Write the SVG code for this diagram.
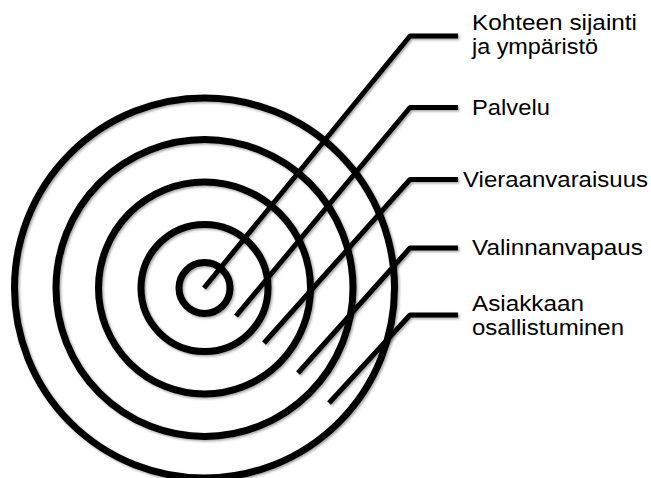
<svg xmlns="http://www.w3.org/2000/svg" width="651" height="478" viewBox="0 0 651 478">
  <defs>
    <filter id="shadow" x="-10%" y="-10%" width="120%" height="120%">
      <feDropShadow dx="1.5" dy="1.5" stdDeviation="1.2" flood-color="#000" flood-opacity="0.35"/>
    </filter>
    <style>
      .ring { fill: none; stroke: #000; stroke-width: 7; }
      .lead { fill: none; stroke: #000; stroke-width: 5; stroke-linejoin: bevel; }
      .lbl { font-family: "Liberation Sans", Arial, sans-serif; font-size: 22.5px; fill: #000; }
    </style>
  </defs>
  <rect width="651" height="478" fill="#fff"/>

  <g id="target" filter="url(#shadow)">
    <circle class="ring" cx="204.5" cy="288" r="190"/>
    <circle class="ring" cx="204.5" cy="288" r="148.5"/>
    <circle class="ring" cx="204.5" cy="288" r="106"/>
    <circle class="ring" cx="204.5" cy="288" r="63.5"/>
    <circle class="ring" cx="204.5" cy="288" r="25.5"/>
  </g>

  <g id="connectors" filter="url(#shadow)">
    <polyline class="lead" points="204,288 410,36 458,36"/>
    <polyline class="lead" points="236,316 410,107.5 458,107.5"/>
    <polyline class="lead" points="264,343 410,179.5 458,179.5"/>
    <polyline class="lead" points="298,373 410,248 458,248"/>
    <polyline class="lead" points="329,403 410,315 458,315"/>
  </g>

  <g id="node-kohteen">
    <text class="lbl" x="472" y="30" textLength="165" lengthAdjust="spacingAndGlyphs">Kohteen sijainti</text>
    <text class="lbl" x="472" y="54" textLength="126" lengthAdjust="spacingAndGlyphs">ja ympäristö</text>
  </g>
  <g id="node-palvelu">
    <text class="lbl" x="472" y="115" textLength="78" lengthAdjust="spacingAndGlyphs">Palvelu</text>
  </g>
  <g id="node-vieraanvaraisuus">
    <text class="lbl" x="463" y="186.5" textLength="185" lengthAdjust="spacingAndGlyphs">Vieraanvaraisuus</text>
  </g>
  <g id="node-valinnanvapaus">
    <text class="lbl" x="472" y="254.5" textLength="171" lengthAdjust="spacingAndGlyphs">Valinnanvapaus</text>
  </g>
  <g id="node-asiakkaan">
    <text class="lbl" x="472" y="311" textLength="112" lengthAdjust="spacingAndGlyphs">Asiakkaan</text>
    <text class="lbl" x="472" y="335" textLength="152" lengthAdjust="spacingAndGlyphs">osallistuminen</text>
  </g>
</svg>
